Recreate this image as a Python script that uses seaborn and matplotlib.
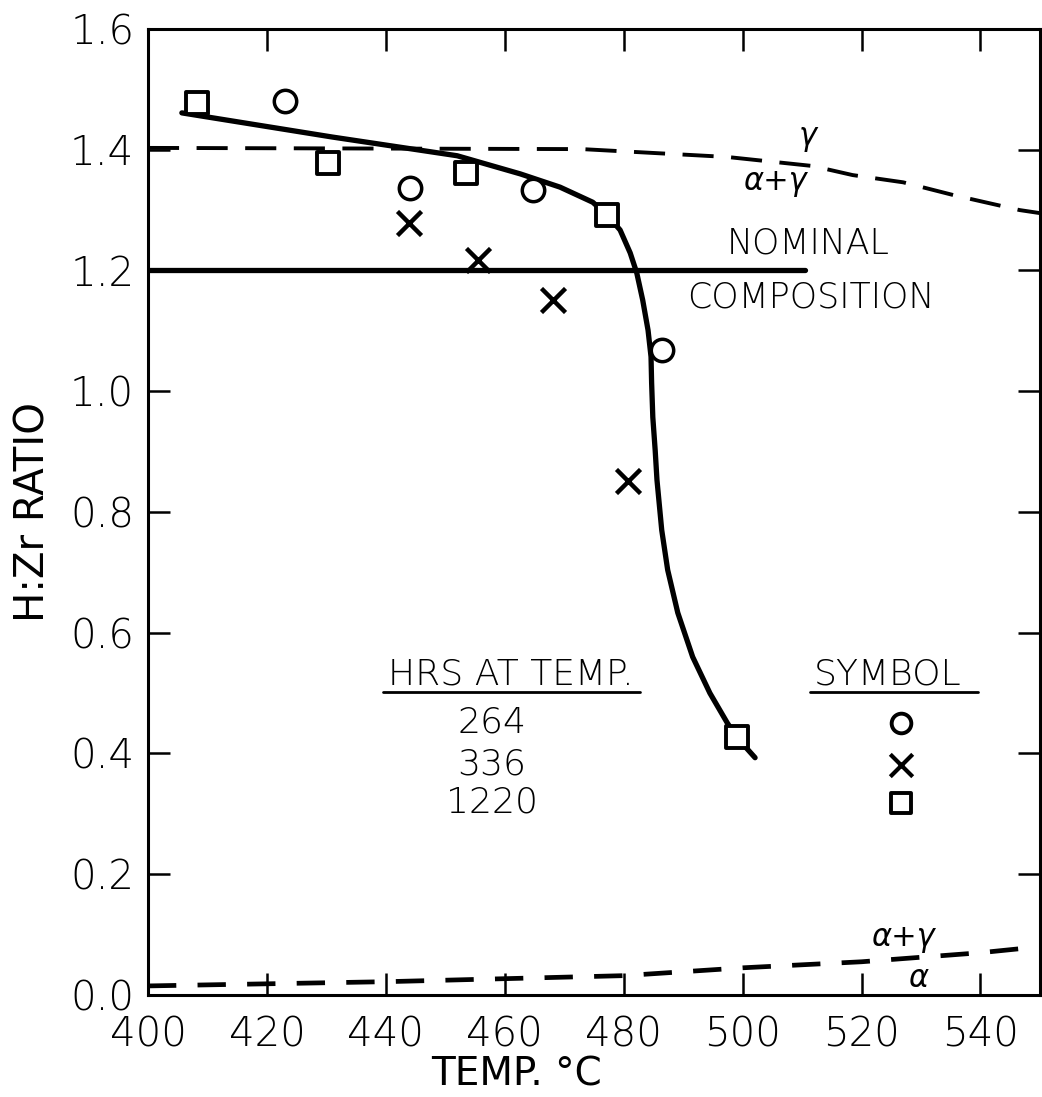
import matplotlib
matplotlib.use("Agg")
import matplotlib.pyplot as plt
import seaborn as sns
import pandas as pd

# ---- data ----
circ_T = [423.0, 444.1, 464.7, 486.5]
circ_R = [1.481, 1.337, 1.333, 1.068]

x_T = [443.9, 455.5, 468.1, 480.7]
x_R = [1.279, 1.217, 1.151, 0.851]

sq_T = [408.2, 430.3, 453.5, 477.2, 499.0]
sq_R = [1.477, 1.378, 1.361, 1.292, 0.427]

curve_T = [405.7, 431.0, 452.0, 462.6, 469.3, 474.8, 477.2, 479.4, 481.1, 482.2,
           483.2, 484.1, 484.6, 484.7, 484.9, 485.3, 485.6, 486.4, 487.4, 489.1,
           491.6, 494.5, 497.4, 499.0, 502.1]
curve_R = [1.461, 1.421, 1.390, 1.360, 1.338, 1.313, 1.292, 1.267, 1.229, 1.196,
           1.151, 1.101, 1.057, 1.014, 0.957, 0.902, 0.853, 0.770, 0.704, 0.633,
           0.560, 0.500, 0.451, 0.427, 0.393]

nominal_T = [400, 510.5]
nominal_R = [1.2, 1.2]

upper_T = [400, 473, 497.4, 511.8, 518.5, 527.0, 535.4, 546.6, 550]
upper_R = [1.403, 1.401, 1.388, 1.373, 1.358, 1.346, 1.325, 1.300, 1.295]

lower_T = [400, 440, 480, 500, 520, 540, 550]
lower_R = [0.015, 0.022, 0.032, 0.045, 0.055, 0.070, 0.080]

x_ticks = [400, 420, 440, 460, 480, 500, 520, 540]
y_ticks = [0.0, 0.2, 0.4, 0.6, 0.8, 1.0, 1.2, 1.4, 1.6]
y_ticklabels = ["0.0", "0.2", "0.4", "0.6", "0.8", "1.0", "1.2", "1.4", "1.6"]

hours = ["264", "336", "1220"]

# ---- style ----
sns.set_style("ticks")
K = "black"
plt.rcParams["font.family"] = ["DejaVu Sans"]
plt.rcParams["font.weight"] = "light"
plt.rcParams["text.color"] = K
plt.rcParams["axes.labelcolor"] = K
plt.rcParams["xtick.color"] = K
plt.rcParams["ytick.color"] = K
plt.rcParams["axes.edgecolor"] = K

fig = plt.figure(figsize=(10.42, 10.97), dpi=100)
ax = fig.add_axes([0.142, 0.093, 0.856, 0.8806])

sns.lineplot(x=curve_T, y=curve_R, ax=ax, color=K, lw=3.8, sort=False,
             estimator=None, zorder=3)
sns.lineplot(x=nominal_T, y=nominal_R, ax=ax, color=K, lw=3.8, sort=False,
             estimator=None, zorder=3)
sns.lineplot(x=upper_T, y=upper_R, ax=ax, color=K, lw=2.8, sort=False,
             estimator=None, zorder=2)
sns.lineplot(x=lower_T, y=lower_R, ax=ax, color=K, lw=3.4, sort=False,
             estimator=None, zorder=2)
ax.lines[0].set_solid_joinstyle("round")
ax.lines[2].set_dashes([8, 4.5])
ax.lines[3].set_dashes([6, 4.5])

sns.scatterplot(x=circ_T, y=circ_R, ax=ax, marker="o", s=260,
                facecolor="white", edgecolor=K, linewidth=2.5, zorder=4)
sns.scatterplot(x=x_T, y=x_R, ax=ax, marker="x", s=300,
                color=K, linewidth=3.2, zorder=4)
sns.scatterplot(x=sq_T, y=sq_R, ax=ax, marker="s", s=260,
                facecolor="white", edgecolor=K, linewidth=2.8, zorder=4)

# key table
tfs = 26
ax.text(461.0, 0.530, "HRS AT TEMP.", ha="center", va="center", fontsize=tfs)
ax.plot([439.5, 482.7], [0.502, 0.502], color=K, lw=2.0)
ax.text(524.4, 0.530, "SYMBOL", ha="center", va="center", fontsize=tfs)
ax.plot([511.3, 539.6], [0.502, 0.502], color=K, lw=2.0)
for h, yy in zip(hours, [0.451, 0.381, 0.318]):
    ax.text(457.8, yy, h, ha="center", va="center", fontsize=tfs)
key = pd.DataFrame({"T": [526.6, 526.6, 526.6], "R": [0.451, 0.381, 0.318]})
sns.scatterplot(data=key.iloc[[0]], x="T", y="R", ax=ax, marker="o", s=200,
                facecolor="white", edgecolor=K, linewidth=2.8)
sns.scatterplot(data=key.iloc[[1]], x="T", y="R", ax=ax, marker="x", s=260,
                color=K, linewidth=3.0)
sns.scatterplot(data=key.iloc[[2]], x="T", y="R", ax=ax, marker="s", s=200,
                facecolor="white", edgecolor=K, linewidth=2.8)

# annotations
ax.text(511.0, 1.245, "NOMINAL", ha="center", va="center", fontsize=25)
ax.text(511.5, 1.155, "COMPOSITION", ha="center", va="center", fontsize=25)
ax.text(511.0, 1.420, "γ", ha="center", va="center", fontsize=22, style="italic")
ax.text(505.5, 1.345, "α+γ", ha="center", va="center", fontsize=22, style="italic")
ax.text(527.0, 0.094, "α+γ", ha="center", va="center", fontsize=22, style="italic")
ax.text(529.5, 0.028, "α", ha="center", va="center", fontsize=22, style="italic")

ax.set_xlim(400, 550)
ax.set_ylim(0, 1.6)
ax.set_xticks(x_ticks)
ax.set_xticklabels([str(t) for t in x_ticks])
ax.set_yticks(y_ticks)
ax.set_yticklabels(y_ticklabels)
ax.tick_params(direction="in", length=16, width=1.8, labelsize=29,
               top=True, right=True, pad=10)
ax.tick_params(axis="x", pad=15)
for sp in ax.spines.values():
    sp.set_linewidth(2.2)
    sp.set_color(K)
    sp.set_visible(True)

ax.set_xlabel("TEMP. °C", fontsize=28)
ax.xaxis.set_label_coords(0.413, -0.082)
ax.xaxis.label.set_va("center")
ax.set_ylabel("H:Zr RATIO", fontsize=29, labelpad=12)

fig.savefig("out.png", dpi=100, facecolor="white")
